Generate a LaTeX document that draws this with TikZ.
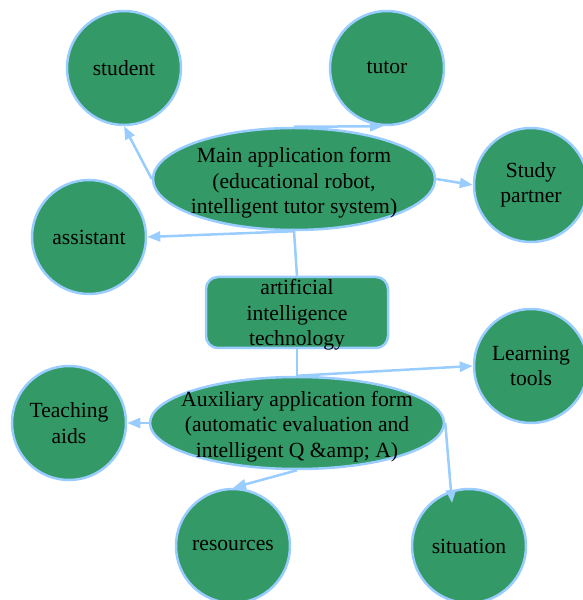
\documentclass[tikz,border=0pt]{standalone}
\usepackage{fontspec}
\setmainfont{Liberation Serif}
\usetikzlibrary{shapes.geometric,arrows.meta,calc}
\definecolor{nodegreen}{RGB}{51,153,102}
\definecolor{edgeblue}{RGB}{153,204,255}
\tikzset{
  base/.style={fill=nodegreen, draw=edgeblue, line width=2.5pt, inner sep=0pt},
  bubble/.style={base, circle, minimum size=114pt, align=center,
    font=\fontsize{21.6}{25.5}\selectfont},
  oval/.style={base, ellipse},
  core/.style={base, rectangle, rounded corners=12pt},
  txt/.style={align=center, inner sep=0pt, font=\fontsize{21.6}{25.5}\selectfont},
  link/.style={draw=edgeblue, line width=2.5pt},
  arr/.style={link, -{Triangle[length=13pt,width=10pt]}},
}
\begin{document}
\begin{tikzpicture}[x=1pt,y=1pt]
\useasboundingbox (0,0) rectangle (582,600);
% main nodes
\node[oval, minimum width=282pt, minimum height=102pt] (main) at (294,421) {};
\node[txt] (maintext) at (294,417) {Main application form\\(educational robot,\\intelligent tutor system)};
\node[core, minimum width=182pt, minimum height=71pt] (ai) at (297,287.5) {};
\node[txt] (aitext) at (297,285) {artificial\\intelligence\\technology};
\node[oval, minimum width=294pt, minimum height=92pt] (aux) at (297,177) {};
\node[txt] (auxtext) at (297,173.5) {Auxiliary application form\\(automatic evaluation and\\intelligent Q \&amp; A)};
% circles
\node[bubble] (student) at (124,532) {student};
\node[bubble] (tutor) at (387,532) {tutor};
\node[bubble] (partner) at (531,415) {Study\\partner};
\node[bubble] (assistant) at (89,363) {assistant};
\node[bubble] (learning) at (531,234) {Learning\\tools};
\node[bubble] (teaching) at (69,177) {Teaching\\aids};
\node[bubble] (resources) at (233,54) {resources};
\node[bubble] (situation) at (469,54) {situation};
% connectors
\draw[link] (ai.north) -- (main.south);
\draw[link] (ai.south) -- (aux.north);
\draw[arr] (main.west) -- (student.south);
\draw[arr] (main.north) -- ([xshift=-4pt]tutor.south);
\draw[arr] (main.east) -- (partner.west);
\draw[arr] (main.south) -- (assistant.east);
\draw[arr] (aux.north) -- (learning.west);
\draw[arr] (aux.west) -- (teaching.east);
\draw[arr] (aux.south) -- (resources.north);
\draw[arr] (aux.east) -- ($(situation.center)+(-17,43)$);
\end{tikzpicture}
\end{document}
